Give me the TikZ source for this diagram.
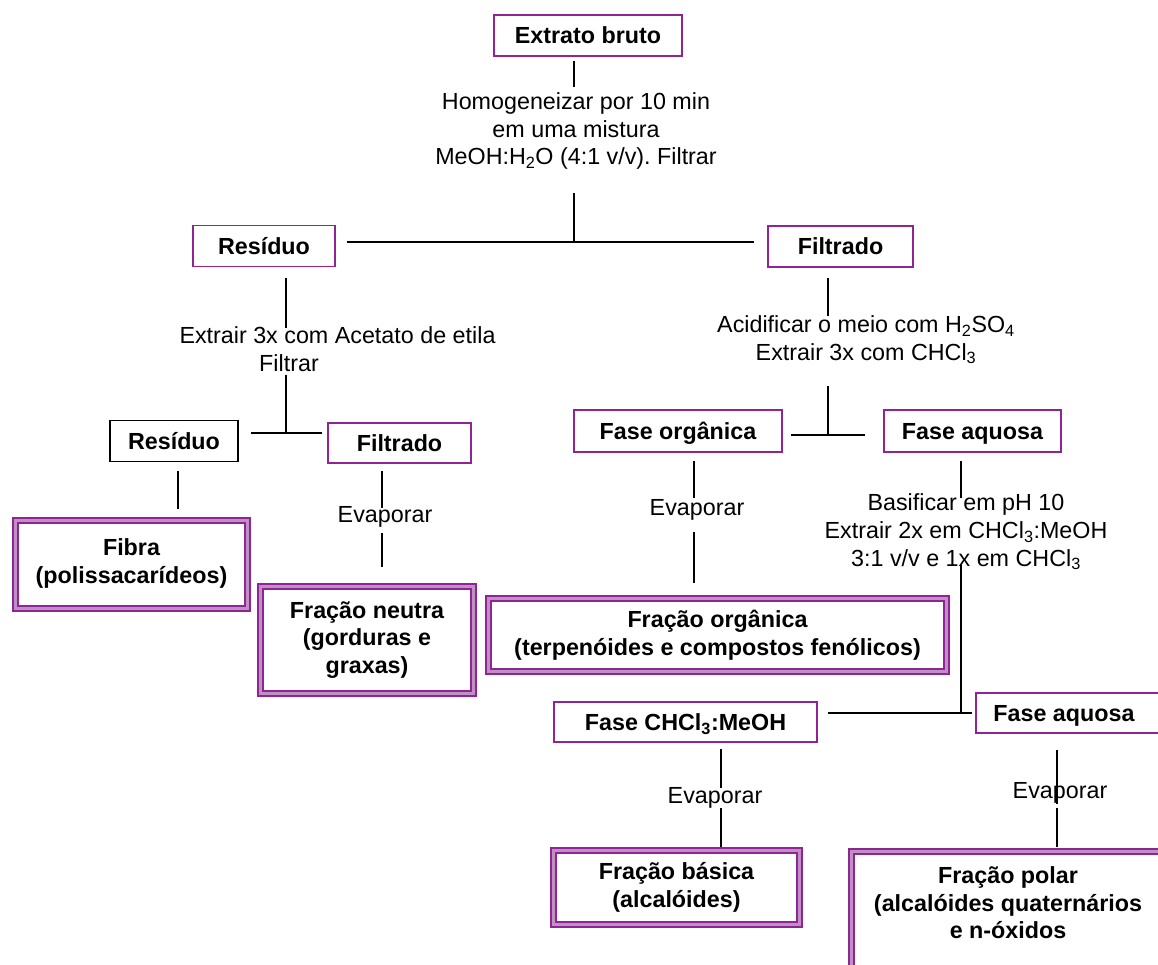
\documentclass[tikz,border=0pt]{standalone}
\usepackage{fontspec}
\setmainfont{Liberation Sans}
\usetikzlibrary{calc}
\definecolor{purp}{RGB}{145,35,150}
\definecolor{lav}{RGB}{190,145,195}
\frenchspacing
\begin{document}
\begin{tikzpicture}[x=1pt,y=-1pt,
  every node/.style={font=\fontsize{23.3}{27.5}\selectfont},
  box/.style={draw=purp, line width=1.5pt, inner sep=0pt, text height=16.7pt, text depth=0pt, font=\fontsize{23.3}{27.5}\selectfont\bfseries},
  dbox/.style={draw=purp, line width=1.8pt, double=lav, double distance=3.2pt, inner sep=0pt, align=center, font=\fontsize{23.3}{27.5}\selectfont\bfseries},
  txt/.style={align=center, inner sep=0pt},
  btxt/.style={align=center, inner sep=0pt, font=\fontsize{23.3}{27.5}\selectfont\bfseries},
  conn/.style={line width=1.4pt, black}]
\useasboundingbox (0,0) rectangle (1158,965);
\clip (0,0) rectangle (1158,965);

% nodes
\node[box, minimum width=188pt, minimum height=41pt] (eb) at (588,35.5) {Extrato bruto};
\node[txt] (homog) at (576,131) {Homogeneizar por 10 min\\em uma mistura\\MeOH:H\textsubscript{2}O (4:1 v/v). Filtrar};
\node[box, minimum width=142pt, minimum height=41pt] (res1) at (264,246) {Resíduo};
\node[box, minimum width=145pt, minimum height=41pt] (filt1) at (840.5,246.5) {Filtrado};
\node[txt] (extr) at (337.5,349) {Extrair 3x com Acetato de etila\\Filtrar\hspace*{97pt}};
\node[txt] (acid) at (866,340) {Acidificar o meio com H\textsubscript{2}SO\textsubscript{4}\\Extrair 3x com CHCl\textsubscript{3}};
\node[box, draw=black, minimum width=128pt, minimum height=41pt] (res2) at (174,441) {Resíduo};
\node[box, minimum width=143pt, minimum height=40pt] (filt2) at (399.5,443) {Filtrado};
\node[box, minimum width=208pt, minimum height=42pt] (forg) at (678,431) {Fase orgânica};
\node[box, minimum width=177pt, minimum height=42pt] (faq1) at (972.5,431) {Fase aquosa};
\node[dbox, minimum width=231.5pt, minimum height=87.5pt] (fibra) at (131.5,564.5) {Fibra\\(polissacarídeos)\\[-21pt]};
\node[txt] (ev1) at (385,517) {Evaporar};
\node[dbox, minimum width=212.5pt, minimum height=106.5pt] (fneu) at (367,640) {Fração neutra\\(gorduras e\\graxas)};
\node[txt] (ev2) at (697,510) {Evaporar};
\node[dbox, minimum width=457.5pt, minimum height=72.5pt] (forgfr) at (717.5,635) {Fração orgânica\\(terpenóides e compostos fenólicos)};
\node[txt] (basif) at (966,532) {Basificar em pH 10\\Extrair 2x em CHCl\textsubscript{3}:MeOH\\3:1 v/v e 1x em CHCl\textsubscript{3}};
\node[box, minimum width=263pt, minimum height=40pt] (fchcl) at (685.5,722) {Fase CHCl\textsubscript{3}:MeOH};
\node[box, minimum width=190pt, minimum height=40pt] (faq2) at (1071,713) {Fase aquosa\hspace*{14pt}};
\node[txt] (ev3) at (715,798) {Evaporar};
\node[dbox, minimum width=245.5pt, minimum height=73.5pt] (fbas) at (676.5,887.5) {Fração básica\\(alcalóides)};
\node[txt] (ev4) at (1060,793) {Evaporar};
\node[dbox, minimum width=340pt, minimum height=125pt, anchor=north west] (fpol) at (850.75,850.75) {};
\node[btxt] (fpolT) at (1008,903) {Fração polar\\(alcalóides quaternários\\e n-óxidos};

% junctions
\coordinate (j1) at (574,242);
\coordinate (j2) at (286,433);
\coordinate (j3) at (828,435);
\coordinate (j4) at (961,713);

% connectors
\draw[conn] (eb.south) ++(-14,4) -- ++(0,26);
\draw[conn] (j1) -- ++(0,-49);
\draw[conn] ($(res1.east)+(11,-4)$) -- ($(filt1.west)+(-13,-4.5)$);

\draw[conn] (res1.south) ++(22,10.5) -- ++(0,50);
\draw[conn] (j2) -- ++(0,-58);
\draw[conn] ($(res2.east)+(12,-8)$) -- ($(filt2.west)+(-5,-10)$);
\draw[conn] (res2.south) ++(4,9) -- ++(0,38);
\draw[conn] (filt2.south) ++(-17.5,7) -- ++(0,37);
\draw[conn] ($(ev1)+(-3,16)$) -- ++(0,34);

\draw[conn] (filt1.south) ++(-12.5,10) -- ++(0,38);
\draw[conn] (j3) -- ++(0,-49);
\draw[conn] ($(forg.east)+(8,4)$) -- ($(faq1.west)+(-18,4)$);
\draw[conn] (forg.south) ++(16,8) -- ++(0,37);
\draw[conn] ($(ev2)+(-3,22)$) -- ++(0,51);

\draw[conn] (faq1.south) ++(-11.5,8) -- ++(0,37);
\draw[conn] (j4) -- ++(0,-148);
\draw[conn] ($(fchcl.east)+(10,-9)$) -- ($(faq2.west)+(-3,0)$);
\draw[conn] (fchcl.south) ++(35.5,6) -- ++(0,39);
\draw[conn] ($(ev3)+(6,10)$) -- ++(0,39);
\draw[conn] (faq2.south) ++(-14,16) -- ++(0,54);
\draw[conn] ($(ev4)+(-3,15)$) -- ++(0,39);
\end{tikzpicture}
\end{document}
